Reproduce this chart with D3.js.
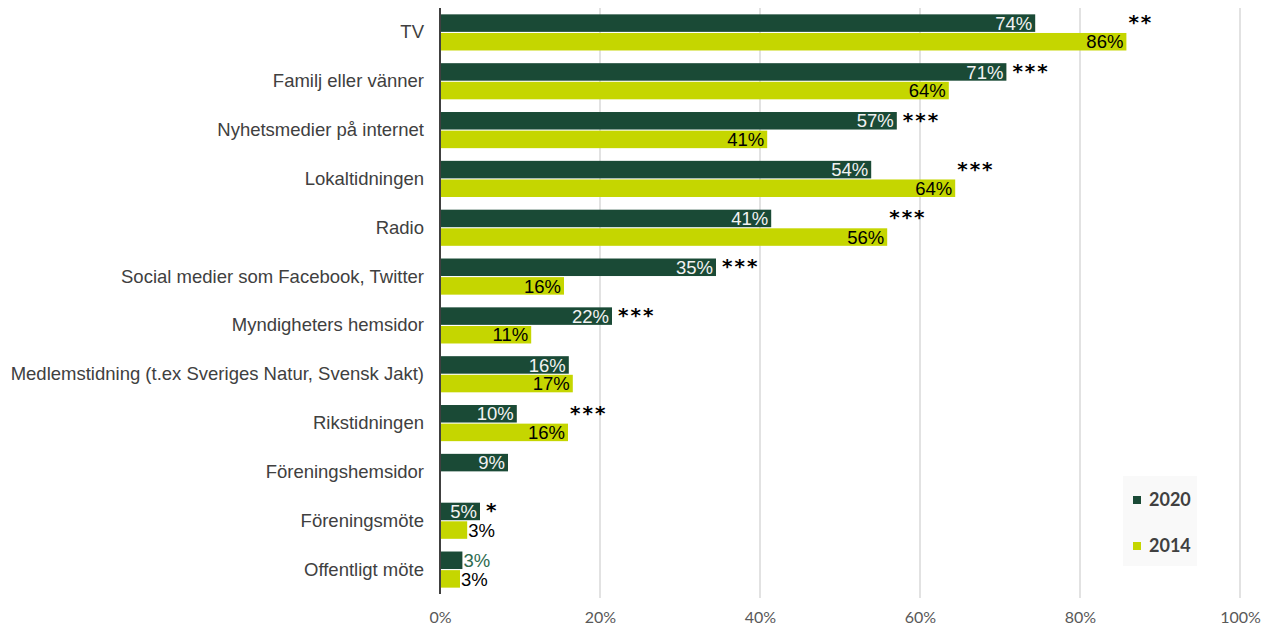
<!DOCTYPE html>
<html>
<head>
<meta charset="utf-8">
<script src="https://cdn.jsdelivr.net/npm/d3@7"></script>
<style>
  body { margin: 0; background: #fff; }
  svg { display: block; }
</style>
</head>
<body>
<div id="viz"></div>
<script>
// source values
var categories = ['TV', 'Familj eller vänner', 'Nyhetsmedier på internet', 'Lokaltidningen', 'Radio',
  'Social medier som Facebook, Twitter', 'Myndigheters hemsidor',
  'Medlemstidning (t.ex Sveriges Natur, Svensk Jakt)', 'Rikstidningen', 'Föreningshemsidor',
  'Föreningsmöte', 'Offentligt möte'];
var values2020 = [74.4, 70.8, 57.1, 53.9, 41.4, 34.5, 21.5, 16.1, 9.6, 8.5, 5.0, 2.8];
var values2014 = [85.8, 63.6, 40.9, 64.4, 55.9, 15.5, 11.4, 16.6, 16.0, null, 3.4, 2.5];
var signif = ['**', '***', '***', '***', '***', '***', '***', '', '***', '', '*', ''];
var series = ['2020', '2014'];
var xTicks = [0, 20, 40, 60, 80, 100];

var width = 1276, height = 628,
    margin = { top: 8, right: 36, bottom: 34, left: 440 };

var colors = { '2020': '#1a4a36', '2014': '#c5d600' };
var labelFont = '"Liberation Sans", Arial, sans-serif';

var svg = d3.select('#viz').append('svg')
    .attr('width', width)
    .attr('height', height);

var xScale = d3.scaleLinear()
    .domain([0, 100])
    .range([margin.left, width - margin.right]);

var yScale = d3.scaleBand()
    .domain(categories)
    .range([margin.top, height - margin.bottom])
    .paddingInner(0.26)
    .paddingOuter(0.13);

var subScale = d3.scaleBand()
    .domain(series)
    .range([0, yScale.bandwidth()])
    .paddingInner(0.06);

// gridlines with small ticks below
svg.append('g')
    .selectAll('line').data(xTicks.slice(1))
    .enter().append('line')
      .attr('x1', function(d) { return xScale(d); })
      .attr('x2', function(d) { return xScale(d); })
      .attr('y1', margin.top)
      .attr('y2', height - margin.bottom + 4)
      .attr('stroke', '#d9d9d9')
      .attr('stroke-width', 1.5);

// x tick labels
var xAxis = d3.axisBottom(xScale)
    .tickValues(xTicks)
    .tickFormat(function(d) { return d + '%'; })
    .tickSize(0)
    .tickPadding(18);

var xGuide = svg.append('g')
    .attr('transform', 'translate(0,' + (height - margin.bottom) + ')')
    .call(xAxis);
xGuide.select('.domain').remove();
xGuide.selectAll('text')
    .attr('fill', '#595959')
    .style('font-family', 'Lato, sans-serif')
    .style('font-size', '16px');

// category labels
var yAxis = d3.axisLeft(yScale).tickSize(0).tickPadding(16);
var yGuide = svg.append('g')
    .attr('transform', 'translate(' + margin.left + ',0)')
    .call(yAxis);
yGuide.select('.domain').remove();
yGuide.selectAll('text')
    .attr('fill', '#404040')
    .style('font-family', labelFont)
    .style('font-size', '18.5px');

// bars
var rows = categories.map(function(c, i) {
  return { cat: c, idx: i, vals: [
    { s: '2020', v: values2020[i] },
    { s: '2014', v: values2014[i] }
  ]};
});

var groups = svg.append('g').selectAll('g')
    .data(rows)
    .enter().append('g')
      .attr('transform', function(d) { return 'translate(0,' + yScale(d.cat) + ')'; });

var bars = groups.selectAll('g.bar')
    .data(function(d) { return d.vals.filter(function(e) { return e.v !== null; }); })
    .enter().append('g').attr('class', 'bar');

bars.append('rect')
    .attr('x', xScale(0))
    .attr('y', function(d) { return subScale(d.s); })
    .attr('width', function(d) { return xScale(d.v) - xScale(0); })
    .attr('height', subScale.bandwidth())
    .attr('fill', function(d) { return colors[d.s]; });

bars.append('text')
    .text(function(d) { return Math.round(d.v) + '%'; })
    .attr('y', function(d) { return subScale(d.s) + subScale.bandwidth() / 2; })
    .attr('dy', '0.36em')
    .style('font-family', labelFont)
    .style('font-size', '18.5px')
    .each(function(d) {
      var t = d3.select(this);
      var w = this.getComputedTextLength();
      var barW = xScale(d.v) - xScale(0);
      if (barW > w + 4) {
        t.attr('x', xScale(d.v) - 3).attr('text-anchor', 'end')
          .attr('fill', d.s === '2020' ? '#f2f2f2' : '#000');
      } else {
        t.attr('x', xScale(d.v) + 1).attr('text-anchor', 'start')
          .attr('fill', d.s === '2020' ? '#2e6b4f' : '#000');
      }
    });

// significance stars
groups.append('text')
    .text(function(d) { return signif[d.idx]; })
    .attr('x', function(d) {
      var m = Math.max(values2020[d.idx], values2014[d.idx] || 0);
      var end = xScale(m);
      // star sits after the 2020 label when that bar is longest
      return values2020[d.idx] >= (values2014[d.idx] || 0) ? end + 6 : end + 2;
    })
    .attr('y', function(d) { return subScale('2020') + subScale.bandwidth() / 2 + 6; })
    .attr('fill', '#000')
    .style('font-family', 'DejaVu Sans, sans-serif')
    .style('font-weight', 'bold')
    .style('font-size', '20px')
    .style('letter-spacing', '2px');

// zero axis line
svg.append('line')
    .attr('x1', xScale(0)).attr('x2', xScale(0))
    .attr('y1', margin.top).attr('y2', height - margin.bottom)
    .attr('stroke', '#404040')
    .attr('stroke-width', 2);

// legend
var legend = svg.append('g').attr('transform', 'translate(1123,476)');
legend.append('rect')
    .attr('width', 74).attr('height', 90)
    .attr('fill', '#f9f9f9');
var items = legend.selectAll('g.item')
    .data(series)
    .enter().append('g').attr('class', 'item')
      .attr('transform', function(d, i) { return 'translate(0,' + (24 + i * 46) + ')'; });
items.append('rect')
    .attr('x', 10).attr('y', -4)
    .attr('width', 8).attr('height', 8)
    .attr('fill', function(d) { return colors[d]; });
items.append('text')
    .text(function(d) { return d; })
    .attr('x', 26).attr('dy', '0.36em')
    .attr('fill', '#404040')
    .style('font-family', 'Lato, sans-serif')
    .style('font-weight', 'bold')
    .style('font-size', '18px');
</script>
</body>
</html>
